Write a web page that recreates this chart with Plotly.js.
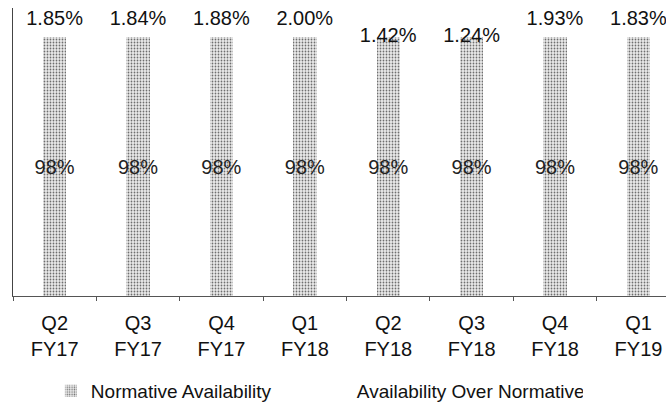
<!DOCTYPE html>
<html>
<head>
<meta charset="utf-8">
<script src="https://cdn.plot.ly/plotly-3.0.1.min.js"></script>
<style>
  html, body { margin: 0; padding: 0; background: #ffffff; }
  #chart { width: 666px; height: 412px; }
</style>
</head>
<body>
<div id="chart"></div>
<script>
// Quarterly availability: normative level plus the share achieved above it
const quarters = ["Q2<br>FY17", "Q3<br>FY17", "Q4<br>FY17", "Q1<br>FY18",
                  "Q2<br>FY18", "Q3<br>FY18", "Q4<br>FY18", "Q1<br>FY19"];
const normative = [98, 98, 98, 98, 98, 98, 98, 98];
const overNormative = [1.85, 1.84, 1.88, 2.00, 1.42, 1.24, 1.93, 1.83];
// label placement for the "over normative" values (two sit on the bar itself)
const overLabelPlacement = ['outside', 'outside', 'outside', 'outside',
                            'inside', 'inside', 'outside', 'outside'];

const fontFamily = '"Liberation Sans", Arial, Helvetica, sans-serif';

const traces = [
  {
    type: 'bar',
    name: 'Normative Availability',
    x: quarters,
    y: normative,
    texttemplate: '%{y}%',
    textposition: 'inside',
    insidetextanchor: 'middle',
    constraintext: 'none',
    textangle: 0,
    textfont: { family: fontFamily, size: 20, color: '#222222' },
    marker: {
      color: '#e6e6e6',
      line: { width: 0 },
      pattern: { shape: '.', size: 3, solidity: 0.28, fgcolor: '#6e6e6e', bgcolor: '#ebebeb' }
    },
    hoverinfo: 'skip'
  },
  {
    type: 'bar',
    name: 'Availability Over Normative',
    x: quarters,
    y: overNormative,
    texttemplate: '%{y:.2f}%',
    textposition: overLabelPlacement,
    insidetextanchor: 'middle',
    constraintext: 'none',
    textangle: 0,
    cliponaxis: false,
    textfont: { family: fontFamily, size: 20, color: '#111111' },
    insidetextfont: { family: fontFamily, size: 20, color: '#111111' },
    outsidetextfont: { family: fontFamily, size: 20, color: '#111111' },
    marker: { color: '#ffffff', line: { width: 0 } },
    hoverinfo: 'skip'
  }
];

const layout = {
  width: 666,
  height: 412,
  margin: { l: 13, r: 0, t: 8, b: 116, autoexpand: false },
  paper_bgcolor: '#ffffff',
  plot_bgcolor: '#ffffff',
  barmode: 'stack',
  bargap: 0.72,
  showlegend: true,
  font: { family: fontFamily, size: 20, color: '#111111' },
  xaxis: {
    type: 'category',
    range: [-0.5, 7.33],
    showline: true,
    linecolor: '#555555',
    linewidth: 1,
    ticks: 'outside',
    tickson: 'boundaries',
    ticklen: 4,
    tickcolor: '#555555',
    ticklabelstandoff: 9,
    showgrid: false,
    tickfont: { family: fontFamily, size: 20, color: '#111111' },
    fixedrange: true
  },
  yaxis: {
    range: [0, 109],
    showline: true,
    linecolor: '#444444',
    linewidth: 1,
    showticklabels: false,
    ticks: '',
    showgrid: false,
    zeroline: false,
    fixedrange: true
  },
  legend: {
    orientation: 'h',
    traceorder: 'normal',
    x: 0.058,
    xanchor: 'left',
    yref: 'container',
    y: 0.051,
    yanchor: 'middle',
    entrywidth: 221,
    font: { family: fontFamily, size: 19, color: '#111111' },
    bgcolor: 'rgba(0,0,0,0)'
  }
};

Plotly.newPlot('chart', traces, layout, { displayModeBar: false, staticPlot: true });
</script>
</body>
</html>
